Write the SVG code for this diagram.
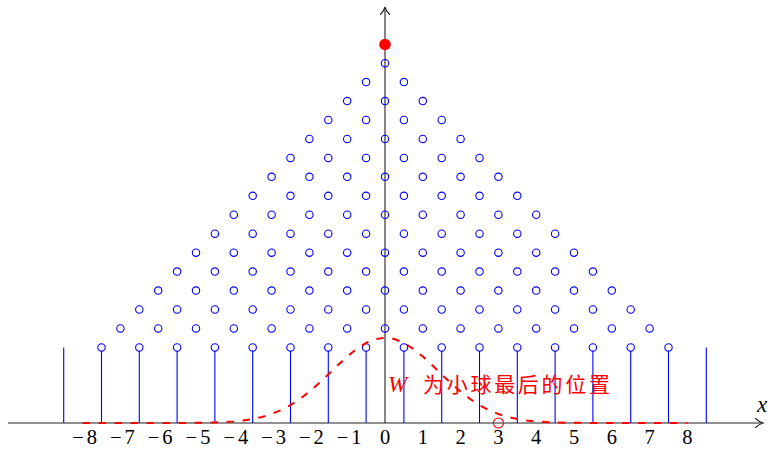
<svg xmlns="http://www.w3.org/2000/svg" width="771" height="449" viewBox="0 0 771 449">
<style>
.axis{stroke:#222;stroke-width:1.1;fill:none}
.tip{stroke:#222;stroke-width:1.1;fill:none;stroke-linecap:round}
.peg{fill:none;stroke:#0000ff;stroke-width:1.1}
.pl{stroke:#0000ff;stroke-width:1.1}
.curve{fill:none;stroke:#ff0000;stroke-width:2;stroke-dasharray:7.5 8.5}
.tick{font-size:20.5px;fill:#000;text-anchor:middle}
.cn{font-size:21px;fill:#ff0000}
</style>
<rect width="771" height="449" fill="#fff"/>
<g id="axes">
<line class="axis" x1="8" y1="423" x2="762" y2="423"/>
<path class="tip" d="M755.5,418.5 Q759.5,422 763,423 Q759.5,424 755.5,427.5"/>
<line class="axis" x1="385" y1="423" x2="385" y2="8"/>
<path class="tip" d="M380.5,14.5 Q384,11 385,7 Q386,11 389.5,14.5"/>
<text x="757" y="412" font-family="'Liberation Serif', 'Times New Roman', serif" font-style="italic" font-size="23">x</text>
</g>
<g id="tick-labels" font-family="'Liberation Serif', 'Times New Roman', serif">
<text class="tick" x="84.6" y="444"><tspan>−</tspan><tspan dx="3">8</tspan></text>
<text class="tick" x="122.4" y="444"><tspan>−</tspan><tspan dx="3">7</tspan></text>
<text class="tick" x="160.2" y="444"><tspan>−</tspan><tspan dx="3">6</tspan></text>
<text class="tick" x="198" y="444"><tspan>−</tspan><tspan dx="3">5</tspan></text>
<text class="tick" x="235.8" y="444"><tspan>−</tspan><tspan dx="3">4</tspan></text>
<text class="tick" x="273.6" y="444"><tspan>−</tspan><tspan dx="3">3</tspan></text>
<text class="tick" x="311.4" y="444"><tspan>−</tspan><tspan dx="3">2</tspan></text>
<text class="tick" x="349.2" y="444"><tspan>−</tspan><tspan dx="3">1</tspan></text>
<text class="tick" x="385" y="444">0</text>
<text class="tick" x="422.8" y="444">1</text>
<text class="tick" x="460.6" y="444">2</text>
<text class="tick" x="498.4" y="444">3</text>
<text class="tick" x="536.2" y="444">4</text>
<text class="tick" x="574" y="444">5</text>
<text class="tick" x="611.8" y="444">6</text>
<text class="tick" x="649.6" y="444">7</text>
<text class="tick" x="687.4" y="444">8</text>
</g>
<g id="bins">
<line class="pl" x1="63.7" y1="347.4" x2="63.7" y2="423"/>
<line class="pl" x1="706.3" y1="347.4" x2="706.3" y2="423"/>
<line class="pl" x1="101.5" y1="351.1" x2="101.5" y2="423"/>
<line class="pl" x1="139.3" y1="351.1" x2="139.3" y2="423"/>
<line class="pl" x1="177.1" y1="351.1" x2="177.1" y2="423"/>
<line class="pl" x1="214.9" y1="351.1" x2="214.9" y2="423"/>
<line class="pl" x1="252.7" y1="351.1" x2="252.7" y2="423"/>
<line class="pl" x1="290.5" y1="351.1" x2="290.5" y2="423"/>
<line class="pl" x1="328.3" y1="351.1" x2="328.3" y2="423"/>
<line class="pl" x1="366.1" y1="351.1" x2="366.1" y2="423"/>
<line class="pl" x1="403.9" y1="351.1" x2="403.9" y2="423"/>
<line class="pl" x1="441.7" y1="351.1" x2="441.7" y2="423"/>
<line class="pl" x1="479.5" y1="351.1" x2="479.5" y2="423"/>
<line class="pl" x1="517.3" y1="351.1" x2="517.3" y2="423"/>
<line class="pl" x1="555.1" y1="351.1" x2="555.1" y2="423"/>
<line class="pl" x1="592.9" y1="351.1" x2="592.9" y2="423"/>
<line class="pl" x1="630.7" y1="351.1" x2="630.7" y2="423"/>
<line class="pl" x1="668.5" y1="351.1" x2="668.5" y2="423"/>
</g>
<g id="pegs">
<circle class="peg" cx="385" cy="63.15" r="3.7"/>
<circle class="peg" cx="366.1" cy="82.1" r="3.7"/><circle class="peg" cx="403.9" cy="82.1" r="3.7"/>
<circle class="peg" cx="347.2" cy="101.05" r="3.7"/><circle class="peg" cx="385" cy="101.05" r="3.7"/><circle class="peg" cx="422.8" cy="101.05" r="3.7"/>
<circle class="peg" cx="328.3" cy="120" r="3.7"/><circle class="peg" cx="366.1" cy="120" r="3.7"/><circle class="peg" cx="403.9" cy="120" r="3.7"/><circle class="peg" cx="441.7" cy="120" r="3.7"/>
<circle class="peg" cx="309.4" cy="138.95" r="3.7"/><circle class="peg" cx="347.2" cy="138.95" r="3.7"/><circle class="peg" cx="385" cy="138.95" r="3.7"/><circle class="peg" cx="422.8" cy="138.95" r="3.7"/><circle class="peg" cx="460.6" cy="138.95" r="3.7"/>
<circle class="peg" cx="290.5" cy="157.9" r="3.7"/><circle class="peg" cx="328.3" cy="157.9" r="3.7"/><circle class="peg" cx="366.1" cy="157.9" r="3.7"/><circle class="peg" cx="403.9" cy="157.9" r="3.7"/><circle class="peg" cx="441.7" cy="157.9" r="3.7"/><circle class="peg" cx="479.5" cy="157.9" r="3.7"/>
<circle class="peg" cx="271.6" cy="176.85" r="3.7"/><circle class="peg" cx="309.4" cy="176.85" r="3.7"/><circle class="peg" cx="347.2" cy="176.85" r="3.7"/><circle class="peg" cx="385" cy="176.85" r="3.7"/><circle class="peg" cx="422.8" cy="176.85" r="3.7"/><circle class="peg" cx="460.6" cy="176.85" r="3.7"/><circle class="peg" cx="498.4" cy="176.85" r="3.7"/>
<circle class="peg" cx="252.7" cy="195.8" r="3.7"/><circle class="peg" cx="290.5" cy="195.8" r="3.7"/><circle class="peg" cx="328.3" cy="195.8" r="3.7"/><circle class="peg" cx="366.1" cy="195.8" r="3.7"/><circle class="peg" cx="403.9" cy="195.8" r="3.7"/><circle class="peg" cx="441.7" cy="195.8" r="3.7"/><circle class="peg" cx="479.5" cy="195.8" r="3.7"/><circle class="peg" cx="517.3" cy="195.8" r="3.7"/>
<circle class="peg" cx="233.8" cy="214.75" r="3.7"/><circle class="peg" cx="271.6" cy="214.75" r="3.7"/><circle class="peg" cx="309.4" cy="214.75" r="3.7"/><circle class="peg" cx="347.2" cy="214.75" r="3.7"/><circle class="peg" cx="385" cy="214.75" r="3.7"/><circle class="peg" cx="422.8" cy="214.75" r="3.7"/><circle class="peg" cx="460.6" cy="214.75" r="3.7"/><circle class="peg" cx="498.4" cy="214.75" r="3.7"/><circle class="peg" cx="536.2" cy="214.75" r="3.7"/>
<circle class="peg" cx="214.9" cy="233.7" r="3.7"/><circle class="peg" cx="252.7" cy="233.7" r="3.7"/><circle class="peg" cx="290.5" cy="233.7" r="3.7"/><circle class="peg" cx="328.3" cy="233.7" r="3.7"/><circle class="peg" cx="366.1" cy="233.7" r="3.7"/><circle class="peg" cx="403.9" cy="233.7" r="3.7"/><circle class="peg" cx="441.7" cy="233.7" r="3.7"/><circle class="peg" cx="479.5" cy="233.7" r="3.7"/><circle class="peg" cx="517.3" cy="233.7" r="3.7"/><circle class="peg" cx="555.1" cy="233.7" r="3.7"/>
<circle class="peg" cx="196" cy="252.65" r="3.7"/><circle class="peg" cx="233.8" cy="252.65" r="3.7"/><circle class="peg" cx="271.6" cy="252.65" r="3.7"/><circle class="peg" cx="309.4" cy="252.65" r="3.7"/><circle class="peg" cx="347.2" cy="252.65" r="3.7"/><circle class="peg" cx="385" cy="252.65" r="3.7"/><circle class="peg" cx="422.8" cy="252.65" r="3.7"/><circle class="peg" cx="460.6" cy="252.65" r="3.7"/><circle class="peg" cx="498.4" cy="252.65" r="3.7"/><circle class="peg" cx="536.2" cy="252.65" r="3.7"/><circle class="peg" cx="574" cy="252.65" r="3.7"/>
<circle class="peg" cx="177.1" cy="271.6" r="3.7"/><circle class="peg" cx="214.9" cy="271.6" r="3.7"/><circle class="peg" cx="252.7" cy="271.6" r="3.7"/><circle class="peg" cx="290.5" cy="271.6" r="3.7"/><circle class="peg" cx="328.3" cy="271.6" r="3.7"/><circle class="peg" cx="366.1" cy="271.6" r="3.7"/><circle class="peg" cx="403.9" cy="271.6" r="3.7"/><circle class="peg" cx="441.7" cy="271.6" r="3.7"/><circle class="peg" cx="479.5" cy="271.6" r="3.7"/><circle class="peg" cx="517.3" cy="271.6" r="3.7"/><circle class="peg" cx="555.1" cy="271.6" r="3.7"/><circle class="peg" cx="592.9" cy="271.6" r="3.7"/>
<circle class="peg" cx="158.2" cy="290.55" r="3.7"/><circle class="peg" cx="196" cy="290.55" r="3.7"/><circle class="peg" cx="233.8" cy="290.55" r="3.7"/><circle class="peg" cx="271.6" cy="290.55" r="3.7"/><circle class="peg" cx="309.4" cy="290.55" r="3.7"/><circle class="peg" cx="347.2" cy="290.55" r="3.7"/><circle class="peg" cx="385" cy="290.55" r="3.7"/><circle class="peg" cx="422.8" cy="290.55" r="3.7"/><circle class="peg" cx="460.6" cy="290.55" r="3.7"/><circle class="peg" cx="498.4" cy="290.55" r="3.7"/><circle class="peg" cx="536.2" cy="290.55" r="3.7"/><circle class="peg" cx="574" cy="290.55" r="3.7"/><circle class="peg" cx="611.8" cy="290.55" r="3.7"/>
<circle class="peg" cx="139.3" cy="309.5" r="3.7"/><circle class="peg" cx="177.1" cy="309.5" r="3.7"/><circle class="peg" cx="214.9" cy="309.5" r="3.7"/><circle class="peg" cx="252.7" cy="309.5" r="3.7"/><circle class="peg" cx="290.5" cy="309.5" r="3.7"/><circle class="peg" cx="328.3" cy="309.5" r="3.7"/><circle class="peg" cx="366.1" cy="309.5" r="3.7"/><circle class="peg" cx="403.9" cy="309.5" r="3.7"/><circle class="peg" cx="441.7" cy="309.5" r="3.7"/><circle class="peg" cx="479.5" cy="309.5" r="3.7"/><circle class="peg" cx="517.3" cy="309.5" r="3.7"/><circle class="peg" cx="555.1" cy="309.5" r="3.7"/><circle class="peg" cx="592.9" cy="309.5" r="3.7"/><circle class="peg" cx="630.7" cy="309.5" r="3.7"/>
<circle class="peg" cx="120.4" cy="328.45" r="3.7"/><circle class="peg" cx="158.2" cy="328.45" r="3.7"/><circle class="peg" cx="196" cy="328.45" r="3.7"/><circle class="peg" cx="233.8" cy="328.45" r="3.7"/><circle class="peg" cx="271.6" cy="328.45" r="3.7"/><circle class="peg" cx="309.4" cy="328.45" r="3.7"/><circle class="peg" cx="347.2" cy="328.45" r="3.7"/><circle class="peg" cx="385" cy="328.45" r="3.7"/><circle class="peg" cx="422.8" cy="328.45" r="3.7"/><circle class="peg" cx="460.6" cy="328.45" r="3.7"/><circle class="peg" cx="498.4" cy="328.45" r="3.7"/><circle class="peg" cx="536.2" cy="328.45" r="3.7"/><circle class="peg" cx="574" cy="328.45" r="3.7"/><circle class="peg" cx="611.8" cy="328.45" r="3.7"/><circle class="peg" cx="649.6" cy="328.45" r="3.7"/>
<circle class="peg" cx="101.5" cy="347.4" r="3.7"/><circle class="peg" cx="139.3" cy="347.4" r="3.7"/><circle class="peg" cx="177.1" cy="347.4" r="3.7"/><circle class="peg" cx="214.9" cy="347.4" r="3.7"/><circle class="peg" cx="252.7" cy="347.4" r="3.7"/><circle class="peg" cx="290.5" cy="347.4" r="3.7"/><circle class="peg" cx="328.3" cy="347.4" r="3.7"/><circle class="peg" cx="366.1" cy="347.4" r="3.7"/><circle class="peg" cx="403.9" cy="347.4" r="3.7"/><circle class="peg" cx="441.7" cy="347.4" r="3.7"/><circle class="peg" cx="479.5" cy="347.4" r="3.7"/><circle class="peg" cx="517.3" cy="347.4" r="3.7"/><circle class="peg" cx="555.1" cy="347.4" r="3.7"/><circle class="peg" cx="592.9" cy="347.4" r="3.7"/><circle class="peg" cx="630.7" cy="347.4" r="3.7"/><circle class="peg" cx="668.5" cy="347.4" r="3.7"/>
</g>
<g id="ball">
<circle cx="385" cy="44.5" r="5.8" fill="#ff0000"/>
</g>
<g id="density">
<path class="curve" d="M82.6,423 L158.2,423 L196,422.84 L214.9,422.46 L233.8,421.44 L243.25,420.47 L252.7,419.01 L262.15,416.92 L271.6,414.01 L281.05,410.12 L290.5,405.12 L299.95,398.94 L309.4,391.62 L318.85,383.34 L328.3,374.4 L337.75,365.29 L347.2,356.57 L356.65,348.89 L366.1,342.87 L375.55,339.02 L385,337.7 L394.45,339.02 L403.9,342.87 L413.35,348.89 L422.8,356.57 L432.25,365.29 L441.7,374.4 L451.15,383.34 L460.6,391.62 L470.05,398.94 L479.5,405.12 L488.95,410.12 L498.4,414.01 L507.85,416.92 L517.3,419.01 L526.75,420.47 L536.2,421.44 L555.1,422.46 L574,422.84 L611.8,423 L687.4,423"/>
</g>
<g id="W-marker">
<circle cx="498.4" cy="423" r="5" fill="none" stroke="#ff0000" stroke-width="1.1"/>
</g>
<g id="W-label">
<text x="388" y="392" fill="#ff0000"><tspan font-family="'Liberation Serif', 'Times New Roman', serif" font-style="italic" font-size="23">W</tspan><tspan class="cn" font-family="'Noto Sans CJK SC', sans-serif" x="423" textLength="187" lengthAdjust="spacing">为小球最后的位置</tspan></text>
</g>
</svg>
